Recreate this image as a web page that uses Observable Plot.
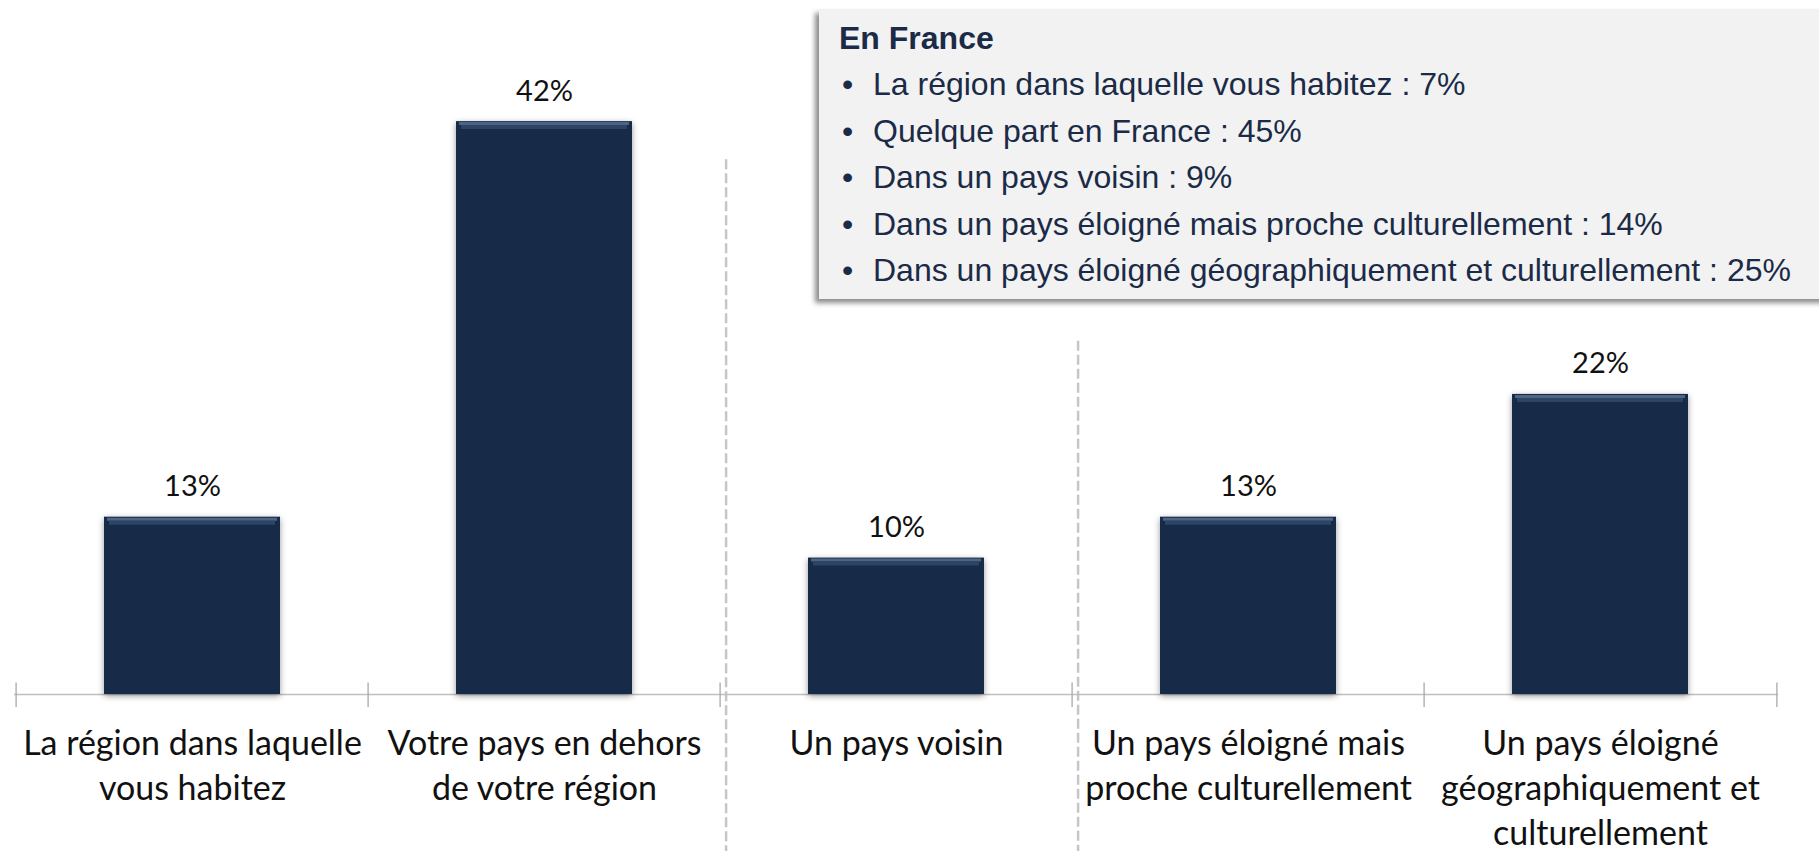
<!DOCTYPE html>
<html>
<head>
<meta charset="utf-8">
<script src="https://cdn.jsdelivr.net/npm/d3@7"></script>
<script src="https://cdn.jsdelivr.net/npm/@observablehq/plot@0.6"></script>
<style>
  html, body { margin: 0; padding: 0; background: #ffffff; }
  #wrap { position: relative; width: 1819px; height: 851px; overflow: hidden; }
  #legend {
    position: absolute; left: 819px; top: 9px; width: 1010px; height: 290px;
    background: #f2f2f2; box-shadow: -4px 4px 5px rgba(0,0,0,0.45);
    font-family: "Liberation Sans", Arial, sans-serif; color: #1b2b47;
    font-size: 32px; line-height: 46.4px; padding-top: 6px; box-sizing: border-box;
  }
  #legend .title { font-weight: bold; padding-left: 20px; }
  #legend .item { position: relative; padding-left: 54px; white-space: nowrap; }
  #legend .item .dot { position: absolute; left: 23px; }
</style>
</head>
<body>
<div id="wrap">
  <div id="chart"></div>
  <div id="legend"></div>
</div>
<script>
// ---- data ----
const categories = [
  "La région dans laquelle vous habitez",
  "Votre pays en dehors de votre région",
  "Un pays voisin",
  "Un pays éloigné mais proche culturellement",
  "Un pays éloigné géographiquement et culturellement"
];
const categoryLabels = [
  "La région dans laquelle\nvous habitez",
  "Votre pays en dehors\nde votre région",
  "Un pays voisin",
  "Un pays éloigné mais\nproche culturellement",
  "Un pays éloigné\ngéographiquement et\nculturellement"
];
const values = [13, 42, 10, 13, 22];

const franceTitle = "En France";
const franceLabels = [
  "La région dans laquelle vous habitez",
  "Quelque part en France",
  "Dans un pays voisin",
  "Dans un pays éloigné mais proche culturellement",
  "Dans un pays éloigné géographiquement et culturellement"
];
const franceValues = [7, 45, 9, 14, 25];

// dashed separators placed before these categories, with their top in % units
const separatorBefore = ["Un pays voisin", "Un pays éloigné mais proche culturellement"];
const separatorTop = [39.2, 25.9];

// ---- build ----
const data = categories.map((c, i) => ({cat: c, label: categoryLabels[i], value: values[i]}));
const seps = separatorBefore.map((c, i) => ({cat: c, top: separatorTop[i]}));

const W = 1819, H = 851, mL = 14, mR = 41, mT = 12, mB = 157;
const step = (W - mL - mR) / categories.length;
const catFont = 34, catLH = 1.332;

const chart = Plot.plot({
  width: W, height: H,
  marginLeft: mL, marginRight: mR, marginTop: mT, marginBottom: mB,
  style: {fontFamily: "Lato, sans-serif", background: "transparent", overflow: "visible"},
  x: {domain: categories, paddingInner: 0.5, paddingOuter: 0.25, axis: null},
  y: {domain: [0, 50], axis: null},
  marks: [
    // dashed separators
    Plot.ruleX(seps, {x: "cat", dx: -step / 2 + 6, y1: "top", y2: -12, stroke: "#c6c6c6", strokeWidth: 2.5, strokeDasharray: "10,4"}),
    // baseline axis
    Plot.ruleY([0], {stroke: "#bfbfbf", strokeWidth: 1.5}),
    // category boundary ticks
    Plot.ruleX(categories, {x: d => d, dx: -step / 2, y1: -0.95, y2: 0.85, stroke: "#a8a8a8", strokeWidth: 1.3}),
    Plot.ruleX(categories.slice(-1), {x: d => d, dx: step / 2, y1: -0.95, y2: 0.85, stroke: "#a8a8a8", strokeWidth: 1.3}),
    // bars
    Plot.barY(data, {x: "cat", y: "value", fill: "#172a48", className: "bars"}),
    // bevel highlight at top of bars
    Plot.tickY(data, {x: "cat", y: "value", dy: 2, stroke: "#4d6585", strokeWidth: 3, inset: 3}),
    Plot.tickY(data, {x: "cat", y: "value", dy: 5.5, stroke: "#2e4464", strokeWidth: 4, inset: 5}),
    // value labels
    Plot.text(data, {x: "cat", y: "value", text: d => d.value + "%", dy: -21, lineAnchor: "bottom", fontSize: 29, fill: "#111111"}),
    // category labels
    Plot.text(data, {x: "cat", y: 0, text: "label", lineAnchor: "top", fontSize: catFont, lineHeight: catLH, dy: 60 - 0.71 * catLH * catFont, fill: "#111111"})
  ]
});
chart.querySelectorAll("g.bars, g[aria-label='bar']").forEach(g => g.style.filter = "drop-shadow(0px 2px 3px rgba(0,0,0,0.4))");
document.getElementById("chart").appendChild(chart);

// legend box
const legend = document.getElementById("legend");
const t = document.createElement("div");
t.className = "title"; t.textContent = franceTitle;
legend.appendChild(t);
franceLabels.forEach((l, i) => {
  const d = document.createElement("div");
  d.className = "item";
  d.innerHTML = `<span class="dot">•</span>`;
  d.appendChild(document.createTextNode(`${l} : ${franceValues[i]}%`));
  legend.appendChild(d);
});
</script>
</body>
</html>
